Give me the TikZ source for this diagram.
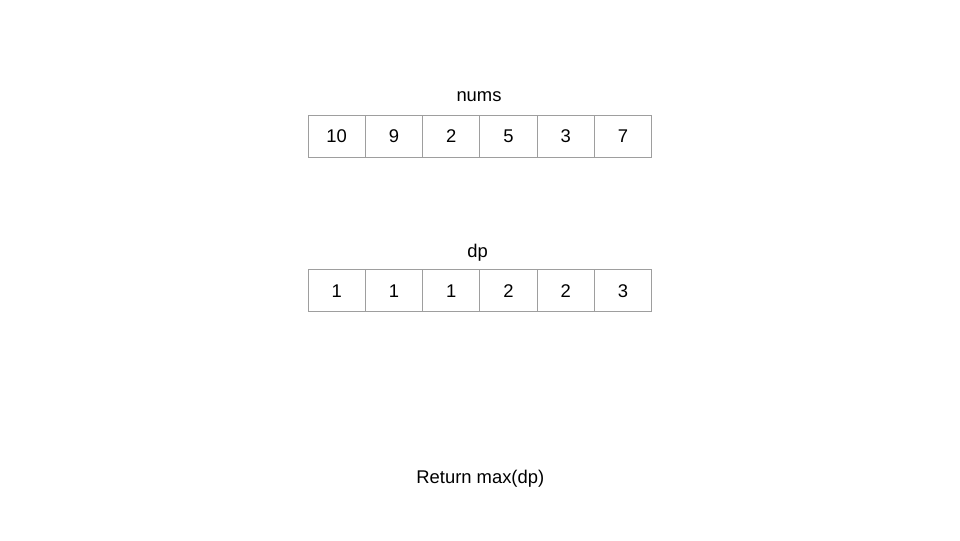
\documentclass[tikz,border=0pt]{standalone}
\usepackage{fontspec}
\setmainfont{Liberation Sans}
\definecolor{cellline}{HTML}{9E9E9E}
\begin{document}
\begin{tikzpicture}[x=0.75pt,y=-0.75pt,
  cell/.style={draw=cellline,line width=0.75pt,minimum width=42.94pt,minimum height=31.3pt,inner sep=0pt,text height=9.85pt,text depth=0pt,font=\fontsize{13.8pt}{16pt}\selectfont,anchor=center},
  lbl/.style={inner sep=0pt,anchor=base,font=\fontsize{13.8pt}{16pt}\selectfont}]
\useasboundingbox[fill=white] (0,0) rectangle (960,540);
% nums row
\node[cell] (n1) at (336.625,136.15) {10};
\node[cell] (n2) at (393.875,136.15) {9};
\node[cell] (n3) at (451.125,136.15) {2};
\node[cell] (n4) at (508.375,136.15) {5};
\node[cell] (n5) at (565.625,136.15) {3};
\node[cell] (n6) at (622.875,136.15) {7};
% dp row
\node[cell] (d1) at (336.625,290.75) {1};
\node[cell] (d2) at (393.875,290.75) {1};
\node[cell] (d3) at (451.125,290.75) {1};
\node[cell] (d4) at (508.375,290.75) {2};
\node[cell] (d5) at (565.625,290.75) {2};
\node[cell] (d6) at (622.875,290.75) {3};
% labels
\node[lbl] (numslbl) at (479,101.3) {nums};
\node[lbl] (dplbl) at (477.7,257.5) {dp};
\node[lbl] (ret) at (480.3,483.5) {Return max(dp)};
\end{tikzpicture}
\end{document}
